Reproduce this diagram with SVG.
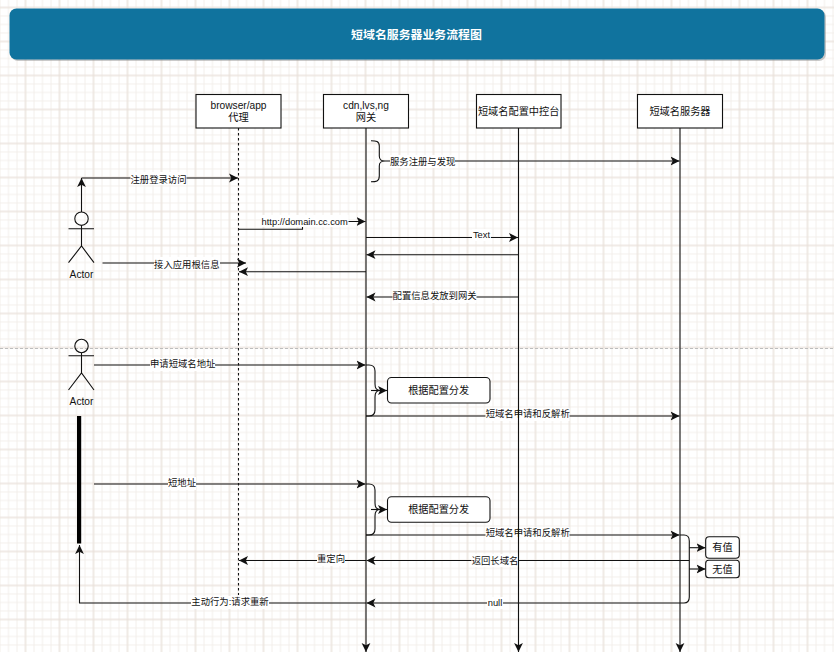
<svg xmlns="http://www.w3.org/2000/svg" width="834" height="652" viewBox="0 0 834 652">
<style>
text{font-family:"Liberation Sans","Noto Sans CJK SC",sans-serif;text-anchor:middle;dominant-baseline:central;fill:#111}
.l{font-size:9.35px}
.n{font-size:10.2px}
.t{font-size:11.9px;font-weight:bold;fill:#fff}
.c{fill:none;stroke:#111;stroke-width:1.1}
.a{marker-end:url(#arrow)}
.b{fill:#fff;stroke:#111;stroke-width:1.1}
.bg{fill:#fff}
.s{fill:none;stroke:#111;stroke-width:1.1}
</style>
<defs>
<pattern id="minor" width="8.5" height="8.5" patternUnits="userSpaceOnUse" x="-1" y="6.500">
<path d="M1 0V8.500M0 1H8.500" fill="none" stroke="#f3efeb" stroke-width="1"/>
</pattern>
<pattern id="major" width="34" height="34" patternUnits="userSpaceOnUse" x="24.500" y="6.500">
<path d="M1 0V34M0 1H34" fill="none" stroke="#e8dfd8" stroke-width="1"/>
</pattern>
<marker id="arrow" markerUnits="userSpaceOnUse" markerWidth="12" markerHeight="10" refX="9" refY="5" orient="auto">
<path d="M0 0.6L9 5L0 9.4L2.200 5Z" fill="#111"/>
</marker>
</defs>
<rect width="834" height="652" fill="#fff"/>
<rect width="834" height="652" fill="url(#minor)"/>
<rect width="834" height="652" fill="url(#major)"/>
<path d="M0 348.500H834" fill="none" stroke="#bdbdbd" stroke-width="1" stroke-dasharray="3 2"/>

<g id="title">
<rect x="11" y="10" width="815" height="51" rx="7" fill="#8a8a8a" opacity="0.45"/>
<rect x="9.500" y="8.500" width="815" height="51" rx="7" fill="#10739e"/>
<text class="t" x="416.500" y="34.500">短域名服务器业务流程图</text>
</g>

<g id="connectors">
<path class="c a" d="M81.500 212V178"/>
<path class="c a" d="M81.500 178H238"/>
<rect class="bg" x="130.500" y="172" width="56" height="13"/><text class="l" x="158.500" y="179.500">注册登录访问</text>

<path class="c a" d="M238.500 229.300H302.500V221.500H365.500"/>
<rect class="bg" x="261.500" y="215" width="87" height="12"/><text class="l" x="304.700" y="221.500">http://domain.cc.com</text>

<path class="c" d="M371 140.700C376 140.700 379.300 141 379.300 146V156C379.300 160 381 161 385 161C381 161 379.300 162 379.300 166V176C379.300 181.500 376 181.700 371 181.700"/>
<path class="c a" d="M385 161H679.500"/>
<rect class="bg" x="390" y="155" width="65" height="13"/><text class="l" x="422.700" y="161.500">服务注册与发现</text>

<path class="c a" d="M366 237.500H518"/>
<rect class="bg" x="472" y="229" width="19" height="12"/><text class="l" x="481.500" y="235">Text</text>
<path class="c a" d="M518.500 254.700H366.500"/>
<path class="c a" d="M102.500 263H246"/>
<rect class="bg" x="154" y="257" width="66" height="13"/><text class="l" x="186.800" y="264.500">接入应用根信息</text>
<path class="c a" d="M366 271.700H239"/>
<path class="c a" d="M518.500 297H366.500"/>
<rect class="bg" x="392.500" y="290" width="84" height="13"/><text class="l" x="434.600" y="296">配置信息发放到网关</text>

<path class="c a" d="M94 365H365.500"/>
<rect class="bg" x="150" y="358" width="65" height="13"/><text class="l" x="182.700" y="364">申请短域名地址</text>
<path class="c" d="M366 365H369C373 365 375 367 375 371V384C375 388 376 390.500 380 390.500C376 390.500 375 393 375 397V410C375 414 373 416 369 416H366"/>
<path class="c a" d="M371 390.500H387"/>
<path class="c a" d="M366 416H679.500"/>
<rect class="bg" x="485.500" y="408" width="84" height="13"/><text class="l" x="527.700" y="414">短域名申请和反解析</text>

<path class="c a" d="M94 484H365.500"/>
<rect class="bg" x="168" y="477" width="28" height="13"/><text class="l" x="182" y="483">短地址</text>
<path class="c" d="M366 484H369C373 484 375 486 375 490V503C375 507 376 509.500 380 509.500C376 509.500 375 512 375 516V529C375 533 373 535 369 535H366"/>
<path class="c a" d="M371 509.500H387"/>
<path class="c a" d="M366 535H679.500"/>
<rect class="bg" x="485.500" y="527" width="84" height="13"/><text class="l" x="527.700" y="533">短域名申请和反解析</text>

<path class="c" d="M680 535H684C687.500 535 689.300 537 689.300 541V597C689.300 601 687.500 603 684 603"/>
<path class="c a" d="M689.300 547.700H705.500"/>
<path class="c a" d="M689.300 569H705.500"/>
<path class="c a" d="M689 560.500H366.500"/>
<rect class="bg" x="471.500" y="554" width="47" height="13"/><text class="l" x="495" y="560.500">返回长域名</text>
<path class="c a" d="M366 560.500H239"/>
<rect class="bg" x="317" y="553" width="28" height="13"/><text class="l" x="331" y="559">重定向</text>
<path class="c a" d="M684 603H366.500"/>
<rect class="bg" x="487" y="597" width="16" height="12"/><text class="l" x="495" y="603">null</text>
<path class="c a" d="M366 603H79.500V545"/>
<rect class="bg" x="191" y="596" width="78" height="13"/><text class="l" x="230" y="601.500">主动行为:请求重新</text>
</g>

<g id="browser">
<path d="M238.500 128V595" fill="none" stroke="#111" stroke-width="1.1" stroke-dasharray="2.500 2.500"/>
<rect class="b" x="196" y="94.500" width="85" height="33.500"/>
<text class="n" x="238.500" y="105.500">browser/app</text>
<text class="n" x="238.500" y="117.500">代理</text>
</g>
<g id="gateway">
<path class="c a" d="M366 128V652"/>
<rect class="b" x="323.500" y="94.500" width="85" height="33.500"/>
<text class="n" x="366" y="105.500">cdn,lvs,ng</text>
<text class="n" x="366" y="117.500">网关</text>
</g>
<g id="console">
<path class="c a" d="M518.500 128V652"/>
<rect class="b" x="476.500" y="94.500" width="84.500" height="33.500"/>
<text class="n" x="518.700" y="111.500">短域名配置中控台</text>
</g>
<g id="server">
<path class="c a" d="M680 128V652"/>
<rect class="b" x="637.500" y="94.500" width="85" height="33.500"/>
<text class="n" x="680" y="111.500">短域名服务器</text>
</g>

<g id="actor1">
<circle class="s" cx="81.500" cy="218.700" r="6.700"/>
<path class="s" d="M81.500 225.400V246M68.500 228.700H94M68.500 262.700L81.500 246L94 262.700"/>
<text class="n" x="81.500" y="274.500">Actor</text>
</g>
<g id="actor2">
<circle class="s" cx="81.500" cy="346" r="6.700"/>
<path class="s" d="M81.500 352.700V373M68.500 355.700H94M68.500 390L81.500 373L94 390"/>
<text class="n" x="81.500" y="401.500">Actor</text>
</g>
<g id="bar"><rect x="77" y="416" width="4.200" height="127.500" fill="#000"/></g>

<g id="dispatch1">
<rect class="b" x="387.500" y="377.500" width="102.500" height="25.500" rx="4"/>
<text class="n" x="438.700" y="390.500">根据配置分发</text>
</g>
<g id="dispatch2">
<rect class="b" x="387.500" y="496.700" width="102.500" height="25.500" rx="4"/>
<text class="n" x="438.700" y="509.500">根据配置分发</text>
</g>
<g id="hasValue">
<rect class="b" x="705.700" y="536.700" width="33.600" height="21.500" rx="3.500"/>
<text class="n" x="722.500" y="547.500">有值</text>
</g>
<g id="noValue">
<rect class="b" x="705.700" y="560.300" width="33.600" height="17.400" rx="3"/>
<text class="n" x="722.500" y="569">无值</text>
</g>
</svg>
